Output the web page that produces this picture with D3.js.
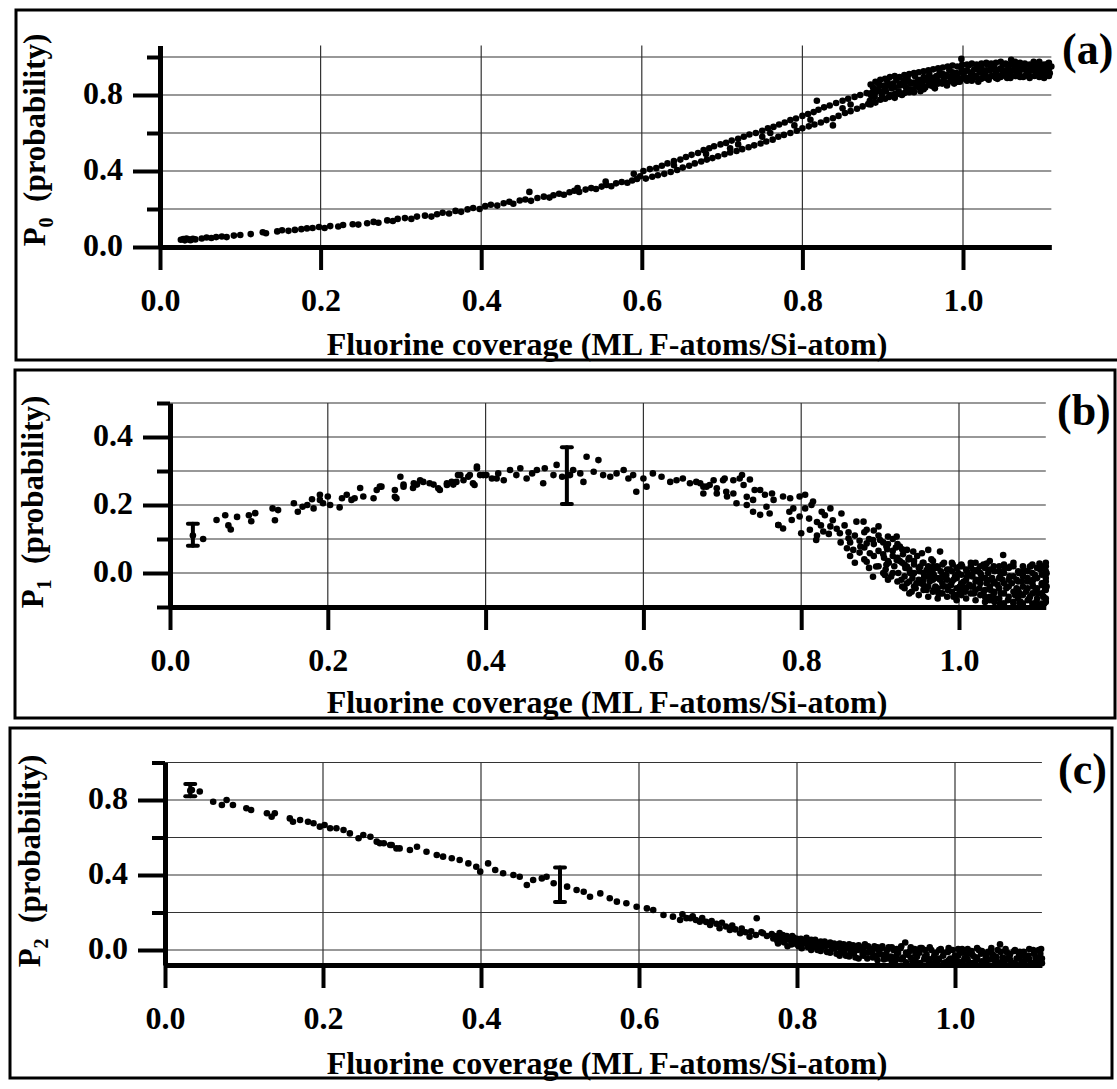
<!DOCTYPE html>
<html>
<head>
<meta charset="utf-8">
<script src="https://cdn.jsdelivr.net/npm/d3@7"></script>
<style>
  body { margin: 0; background: #fff; }
</style>
</head>
<body>
<div id="chart"></div>
<script>
// ---- Data ----
const xTicks = [0, 0.2, 0.4, 0.6, 0.8, 1.0];
const xTitle = "Fluorine coverage (ML F-atoms/Si-atom)";

const p0YMajor = [0, 0.4, 0.8];
const p0YMinor = [0.2, 0.6, 1.0];
const p1YMajor = [0, 0.2, 0.4];
const p1YMinor = [-0.1, 0.1, 0.3, 0.5];
const p2YMajor = [0, 0.4, 0.8];
const p2YMinor = [0.2, 0.6, 1.0];

// error bars: [x, low, high]
const p1Errors = [[0.029, 0.08, 0.145], [0.503, 0.203, 0.37]];
const p2Errors = [[0.032, 0.82, 0.885], [0.5, 0.256, 0.44]];

// P0 vs coverage
const p0Points = [
  [0.026,0.038],[0.029,0.042],[0.031,0.035],[0.033,0.045],[0.036,0.04],[0.038,0.036],[0.041,0.043],[0.044,0.04],
  [0.052,0.045],[0.058,0.05],[0.064,0.047],[0.07,0.052],[0.077,0.055],[0.083,0.052],[0.092,0.06],[0.1,0.063],
  [0.113,0.068],[0.128,0.078],[0.132,0.072],[0.146,0.082],[0.152,0.088],[0.16,0.085],[0.168,0.09],[0.176,0.094],
  [0.183,0.098],[0.19,0.1],[0.198,0.105],[0.205,0.1],[0.212,0.11],[0.222,0.108],[0.228,0.116],[0.24,0.12],
  [0.247,0.118],[0.258,0.125],[0.266,0.132],[0.272,0.128],[0.283,0.14],[0.29,0.137],[0.296,0.148],[0.305,0.152],
  [0.313,0.148],[0.32,0.16],[0.33,0.165],[0.338,0.16],[0.345,0.172],[0.352,0.18],[0.36,0.176],[0.368,0.19],
  [0.375,0.185],[0.383,0.198],[0.39,0.205],[0.398,0.2],[0.405,0.215],[0.412,0.222],[0.42,0.218],[0.428,0.23],
  [0.435,0.238],[0.44,0.228],[0.448,0.245],[0.455,0.25],[0.462,0.243],[0.47,0.258],[0.478,0.265],[0.485,0.26],
  [0.49,0.272],[0.497,0.28],[0.503,0.275],[0.51,0.288],[0.516,0.296],[0.522,0.29],[0.53,0.302],[0.537,0.31],
  [0.543,0.305],[0.55,0.318],[0.556,0.326],[0.562,0.32],[0.568,0.335],[0.575,0.342],[0.582,0.338],[0.588,0.35],
  [0.594,0.358],[0.598,0.372],[0.46,0.29],[0.52,0.31],[0.555,0.345],[0.59,0.385],
  // upper branch
  [0.602,0.4],[0.61,0.41],[0.618,0.415],[0.625,0.428],[0.632,0.44],[0.64,0.452],[0.648,0.46],[0.655,0.474],
  [0.662,0.485],[0.67,0.495],[0.677,0.51],[0.684,0.52],[0.69,0.53],[0.698,0.54],[0.705,0.548],[0.712,0.56],
  [0.72,0.57],[0.727,0.58],[0.734,0.592],[0.742,0.6],[0.75,0.612],[0.757,0.625],[0.764,0.632],[0.771,0.645],
  [0.778,0.655],[0.785,0.668],[0.792,0.676],[0.8,0.69],[0.807,0.7],[0.814,0.71],[0.82,0.722],[0.827,0.735],
  [0.834,0.745],[0.842,0.758],[0.85,0.77],[0.857,0.78],[0.865,0.79],[0.872,0.8],[0.88,0.81],
  // lower branch
  [0.605,0.36],[0.613,0.37],[0.62,0.378],[0.628,0.385],[0.636,0.395],[0.644,0.405],[0.651,0.418],[0.659,0.428],
  [0.666,0.44],[0.674,0.45],[0.681,0.46],[0.688,0.468],[0.695,0.478],[0.703,0.488],[0.71,0.497],[0.718,0.505],
  [0.725,0.515],[0.733,0.525],[0.74,0.535],[0.748,0.545],[0.755,0.555],[0.763,0.565],[0.77,0.58],[0.777,0.59],
  [0.785,0.6],[0.793,0.612],[0.8,0.625],[0.808,0.635],[0.815,0.645],[0.823,0.655],[0.83,0.668],[0.838,0.678],
  [0.845,0.69],[0.853,0.705],[0.86,0.715],[0.868,0.728],[0.875,0.74],[0.882,0.752],
  [0.64,0.43],[0.68,0.49],[0.72,0.54],[0.76,0.6],[0.79,0.64],[0.81,0.67],[0.818,0.77],[0.838,0.64],
  [0.86,0.75],[0.71,0.52],[0.75,0.58],[0.85,0.73],
  // saturated region
  [0.884,0.77],[0.886,0.81],[0.888,0.84],[0.89,0.79],[0.893,0.83],[0.895,0.86],[0.897,0.775],[0.899,0.8],
  [0.902,0.85],[0.904,0.82],[0.906,0.87],[0.908,0.79],[0.911,0.835],[0.913,0.86],[0.915,0.805],[0.917,0.88],
  [0.92,0.82],[0.922,0.85],[0.924,0.8],[0.926,0.875],[0.929,0.84],[0.931,0.89],[0.933,0.815],[0.935,0.86],
  [0.938,0.83],[0.94,0.9],[0.942,0.85],[0.944,0.875],[0.947,0.82],[0.949,0.86],[0.951,0.895],[0.953,0.84],
  [0.956,0.88],[0.958,0.91],[0.96,0.85],[0.962,0.87],[0.965,0.835],[0.967,0.9],[0.969,0.87],[0.971,0.92],
  [0.974,0.86],[0.976,0.885],[0.978,0.905],[0.98,0.85],[0.983,0.93],[0.985,0.875],[0.987,0.9],[0.989,0.86],
  [0.992,0.915],[0.994,0.89],[0.996,0.87],[0.998,0.94],[1.001,0.9],[1.003,0.925],[1.005,0.875],[1.007,0.955],
  [1.01,0.91],[1.012,0.885],[1.014,0.935],[1.016,0.9],[1.019,0.87],[1.021,0.92],[1.023,0.945],[1.025,0.895],
  [1.028,0.91],[1.03,0.96],[1.032,0.88],[1.034,0.93],[1.037,0.9],[1.039,0.945],[1.041,0.915],[1.043,0.885],
  [1.046,0.935],[1.048,0.905],[1.05,0.96],[1.052,0.92],[1.055,0.89],[1.057,0.94],[1.059,0.91],[1.061,0.97],
  [1.064,0.93],[1.066,0.9],[1.068,0.95],[1.07,0.915],[1.073,0.94],[1.075,0.895],[1.077,0.965],[1.079,0.925],
  [1.082,0.905],[1.084,0.95],[1.086,0.93],[1.088,0.975],[1.091,0.91],[1.093,0.94],[1.095,0.96],[1.097,0.92],
  [1.1,0.945],[1.102,0.9],[1.104,0.93],[1.106,0.965],[1.108,0.915],[1.11,0.95],[0.998,0.99],[1.06,0.985],
  [0.885,0.75],[0.885,0.8],[0.885,0.855],[0.891,0.76],[0.891,0.815],[0.891,0.87],[0.897,0.82],[0.897,0.85],
  [0.897,0.88],[0.903,0.78],[0.903,0.835],[0.903,0.885],[0.909,0.8],[0.909,0.85],[0.909,0.895],[0.915,0.785],
  [0.915,0.84],[0.915,0.9],[0.921,0.805],[0.921,0.86],[0.921,0.895],[0.927,0.81],[0.927,0.855],[0.927,0.905],
  [0.933,0.83],[0.933,0.87],[0.933,0.91],[0.939,0.815],[0.939,0.865],[0.939,0.915],[0.945,0.84],[0.945,0.88],
  [0.945,0.92],[0.951,0.83],[0.951,0.875],[0.951,0.925],[0.957,0.855],[0.957,0.895],[0.957,0.93],[0.963,0.845],
  [0.963,0.89],[0.963,0.935],[0.969,0.86],[0.969,0.9],[0.969,0.94],[0.975,0.87],[0.975,0.91],[0.975,0.945],
  [0.981,0.865],[0.981,0.9],[0.981,0.95],[0.987,0.88],[0.987,0.92],[0.987,0.955],[0.993,0.87],[0.993,0.91],
  [0.993,0.95],[0.999,0.885],[0.999,0.92],[0.999,0.96],[1.005,0.89],[1.005,0.93],[1.005,0.96],[1.011,0.875],
  [1.011,0.92],[1.011,0.965],[1.017,0.895],[1.017,0.935],[1.017,0.96],[1.023,0.885],[1.023,0.925],[1.023,0.965],
  [1.029,0.89],[1.029,0.93],[1.029,0.97],[1.035,0.9],[1.035,0.94],[1.035,0.965],[1.041,0.89],[1.041,0.93],
  [1.041,0.97],[1.047,0.895],[1.047,0.94],[1.047,0.975],[1.053,0.9],[1.053,0.93],[1.053,0.965],[1.059,0.89],
  [1.059,0.925],[1.059,0.96],[1.065,0.9],[1.065,0.945],[1.065,0.975],[1.071,0.895],[1.071,0.93],[1.071,0.97],
  [1.077,0.9],[1.077,0.935],[1.077,0.955],[1.083,0.89],[1.083,0.93],[1.083,0.96],[1.089,0.9],[1.089,0.94],
  [1.089,0.965],[1.095,0.895],[1.095,0.935],[1.095,0.975],[1.101,0.89],[1.101,0.925],[1.101,0.96],[1.107,0.9],
  [1.107,0.94],[1.107,0.97]
];

// P1 vs coverage
const p1Points = [
  [0.029,0.11],[0.042,0.1],[0.059,0.156],[0.07,0.17],[0.074,0.14],[0.077,0.128],[0.085,0.165],[0.1,0.17],
  [0.103,0.152],[0.108,0.176],[0.13,0.19],[0.133,0.155],[0.137,0.185],[0.157,0.205],[0.162,0.18],[0.168,0.195],
  [0.174,0.2],[0.18,0.217],[0.182,0.19],[0.19,0.215],[0.19,0.23],[0.194,0.205],[0.2,0.225],[0.203,0.2],
  [0.215,0.193],[0.218,0.22],[0.224,0.23],[0.23,0.215],[0.234,0.22],[0.241,0.25],[0.245,0.225],[0.258,0.22],
  [0.262,0.244],[0.268,0.254],[0.285,0.244],[0.287,0.22],[0.296,0.26],[0.308,0.25],[0.313,0.26],[0.321,0.268],
  [0.334,0.26],[0.342,0.244],[0.351,0.264],[0.359,0.26],[0.363,0.268],[0.368,0.288],[0.378,0.283],[0.384,0.264],
  [0.389,0.313],[0.393,0.288],[0.401,0.288],[0.414,0.278],
  [0.266,0.254],[0.285,0.224],[0.292,0.283],[0.296,0.254],[0.309,0.264],[0.317,0.273],[0.329,0.264],[0.34,0.249],
  [0.351,0.259],[0.357,0.268],[0.365,0.288],[0.372,0.273],[0.38,0.288],[0.386,0.259],[0.389,0.308],[0.397,0.288],
  [0.408,0.278],[0.416,0.293],[0.423,0.273],[0.431,0.303],[0.439,0.288],[0.444,0.308],[0.452,0.278],[0.459,0.293],
  [0.465,0.303],[0.473,0.264],[0.475,0.308],[0.486,0.288],[0.49,0.318],[0.497,0.283],[0.507,0.288],[0.511,0.303],
  [0.52,0.293],[0.524,0.268],[0.528,0.342],[0.537,0.298],[0.543,0.332],[0.549,0.288],[0.558,0.283],[0.566,0.293],
  [0.575,0.303],[0.581,0.278],[0.587,0.288],[0.591,0.239],[0.6,0.278],[0.604,0.254],[0.612,0.293],[0.623,0.283],
  [0.634,0.268],[0.642,0.273],[0.65,0.278],[0.659,0.264],[0.667,0.268],[0.676,0.254],[0.684,0.259],[0.693,0.249],
  [0.701,0.273],[0.705,0.239],[0.714,0.234],[0.722,0.278],[0.731,0.224],[0.739,0.215],[0.748,0.244],[0.756,0.195],
  [0.765,0.215],[0.771,0.141],
  [0.672,0.264],[0.68,0.254],[0.689,0.273],[0.703,0.278],[0.714,0.273],[0.725,0.288],[0.735,0.275],[0.727,0.259],
  [0.741,0.244],[0.754,0.23],[0.763,0.234],[0.777,0.225],[0.786,0.22],[0.798,0.225],[0.805,0.23],[0.813,0.2],
  [0.826,0.18],[0.837,0.19],[0.851,0.175],
  [0.676,0.234],[0.693,0.234],[0.706,0.225],[0.718,0.205],[0.731,0.2],[0.739,0.18],[0.748,0.171],[0.76,0.175],
  [0.771,0.141],[0.777,0.131],[0.788,0.156],[0.798,0.166],[0.8,0.117],[0.811,0.127],[0.819,0.097],[0.828,0.122],
  [0.837,0.137],[0.849,0.117],[0.86,0.102],[0.87,0.151],[0.879,0.151],[0.883,0.127],[0.898,0.137],[0.891,0.097],
  [0.858,0.073],[0.866,0.068],[0.875,0.078],[0.883,0.087],[0.887,0.058],[0.9,0.097],[0.908,0.078],[0.91,0.107],
  [0.921,0.107],[0.925,0.078],[0.934,0.068],[0.942,0.063],[0.953,0.058],[0.961,0.068],[0.976,0.063],
  [0.805,0.19],[0.81,0.16],[0.815,0.21],[0.82,0.15],[0.825,0.14],[0.83,0.17],[0.835,0.115],[0.84,0.155],
  [0.845,0.13],[0.85,0.09],[0.855,0.14],[0.86,0.12],[0.82,0.11],[0.79,0.19],[0.785,0.18],
  [0.862,0.09],[0.862,0.05],[0.868,0.11],[0.868,0.03],[0.874,0.06],[0.874,0.095],[0.88,0.04],[0.88,0.12],
  [0.88,0.075],[0.886,0.1],[0.886,0.015],[0.892,0.05],[0.892,0.085],[0.892,0.125],[0.898,0.02],[0.898,0.065],
  [0.898,0.11],[0.904,0.0],[0.904,0.09],[0.904,0.055],[0.91,0.035],[0.91,0.085],[0.91,-0.02],[0.916,0.065],
  [0.916,0.0],[0.916,0.1],[0.922,0.045],[0.922,-0.025],[0.922,0.085],[0.928,0.03],[0.928,0.07],[0.928,-0.04],
  [0.883,0.033],[0.891,-0.011],[0.906,-0.006],[0.895,0.019],[0.908,0.024],[0.921,0.038],[0.934,0.019],[0.942,-0.001],
  [0.946,-0.03],[0.94,-0.055],[0.955,-0.02],[0.963,-0.001],[0.968,-0.05],[0.976,-0.02],[0.984,-0.006],[0.993,-0.02],
  [1.001,0.019],[1.005,-0.04],[1.01,-0.011],[1.018,0.009],[1.027,-0.02],[1.035,0.028],[1.044,-0.03],[1.052,-0.011],
  [1.056,0.053],[1.065,0.019],[1.073,-0.02],[1.081,-0.001],[1.09,0.019],[1.094,-0.02],[1.102,0.028],[1.107,-0.03],
  [1.111,-0.001],[1.102,-0.095],[1.056,-0.09],[1.069,-0.089],[1.039,-0.08],[1.031,-0.06],[0.993,-0.07],[1.001,-0.05],
  [0.98,-0.04],[0.968,0.019],[0.959,0.009],[0.951,0.019],[0.976,-0.06],[1.018,-0.04],[1.044,-0.06],[1.077,-0.06],
  [1.09,-0.07],[1.098,-0.05],[1.111,-0.04],[1.107,-0.07],[1.077,-0.09],[1.052,-0.09],
  [0.905,0.045],[0.907,0.01],[0.909,0.07],[0.911,0.03],[0.914,-0.01],[0.916,0.05],[0.918,0.02],[0.92,0.075],
  [0.923,0.0],[0.925,0.035],[0.927,-0.02],[0.929,0.055],[0.932,0.015],[0.934,-0.03],[0.936,0.04],[0.938,0.0],
  [0.941,-0.015],[0.943,0.025],[0.945,-0.045],[0.947,0.05],[0.95,0.005],[0.952,-0.03],[0.954,0.03],[0.956,-0.01],
  [0.959,-0.05],[0.961,0.015],[0.963,-0.025],[0.965,0.04],[0.968,-0.005],[0.97,-0.04],[0.972,0.02],[0.974,-0.06],
  [0.977,0.005],[0.979,-0.03],[0.981,0.03],[0.983,-0.015],[0.986,-0.05],[0.988,0.01],[0.99,-0.035],[0.992,0.025],
  [0.995,-0.01],[0.997,-0.065],[0.999,0.0],[1.001,-0.04],[1.004,0.02],[1.006,-0.025],[1.008,-0.055],[1.01,0.005],
  [1.013,-0.035],[1.015,0.03],[1.017,-0.01],[1.019,-0.06],[1.022,-0.02],[1.024,0.01],[1.026,-0.045],[1.028,-0.005],
  [1.031,0.025],[1.033,-0.07],[1.035,-0.03],[1.037,0.0],[1.04,-0.05],[1.042,-0.015],[1.044,0.02],[1.046,-0.075],
  [1.049,-0.035],[1.051,0.005],[1.053,-0.06],[1.055,-0.02],[1.058,0.015],[1.06,-0.045],[1.062,-0.08],[1.064,-0.01],
  [1.067,-0.03],[1.069,0.02],[1.071,-0.065],[1.073,-0.045],[1.076,0.0],[1.078,-0.085],[1.08,-0.025],[1.082,0.01],
  [1.085,-0.055],[1.087,-0.015],[1.089,-0.075],[1.091,0.02],[1.094,-0.04],[1.096,-0.005],[1.098,-0.085],[1.1,-0.06],
  [1.103,0.01],[1.105,-0.03],[1.107,-0.07],[1.109,-0.05],[1.11,-0.015],[1.11,0.02],[1.108,-0.09],[1.11,-0.085],
  [0.931,-0.045],[0.931,-0.01],[0.931,0.025],[0.937,-0.06],[0.937,-0.025],[0.937,0.01],[0.937,0.045],[0.943,-0.04],
  [0.943,0.0],[0.943,0.035],[0.949,-0.065],[0.949,-0.02],[0.949,0.015],[0.955,-0.05],[0.955,-0.035],[0.955,0.0],
  [0.955,0.03],[0.961,-0.07],[0.961,-0.04],[0.961,-0.01],[0.961,0.02],[0.967,-0.055],[0.967,-0.02],[0.967,0.01],
  [0.967,0.035],[0.973,-0.075],[0.973,-0.045],[0.973,-0.015],[0.973,0.015],[0.979,-0.06],[0.979,-0.005],[0.979,0.025],
  [0.985,-0.07],[0.985,-0.04],[0.985,-0.02],[0.985,0.01],[0.991,-0.055],[0.991,-0.025],[0.991,0.005],[0.991,0.03],
  [0.997,-0.08],[0.997,-0.045],[0.997,-0.015],[0.997,0.015],[1.003,-0.065],[1.003,-0.03],[1.003,-0.005],[1.003,0.025],
  [1.009,-0.075],[1.009,-0.045],[1.009,-0.02],[1.009,0.01],[1.015,-0.06],[1.015,-0.04],[1.015,-0.005],[1.015,0.02],
  [1.021,-0.08],[1.021,-0.05],[1.021,-0.025],[1.021,0.005],[1.021,0.03],[1.027,-0.065],[1.027,-0.03],[1.027,0.0],
  [1.027,0.02],[1.033,-0.085],[1.033,-0.05],[1.033,-0.015],[1.033,0.015],[1.039,-0.07],[1.039,-0.04],[1.039,-0.02],
  [1.039,0.01],[1.039,0.035],[1.045,-0.085],[1.045,-0.055],[1.045,-0.025],[1.045,0.005],[1.051,-0.075],[1.051,-0.045],
  [1.051,-0.015],[1.051,0.02],[1.057,-0.09],[1.057,-0.06],[1.057,-0.03],[1.057,0.0],[1.057,0.025],[1.063,-0.07],
  [1.063,-0.04],[1.063,-0.02],[1.063,0.015],[1.069,-0.085],[1.069,-0.055],[1.069,-0.01],[1.069,0.03],[1.075,-0.075],
  [1.075,-0.05],[1.075,-0.025],[1.075,0.005],[1.081,-0.09],[1.081,-0.065],[1.081,-0.04],[1.081,-0.01],[1.081,0.02],
  [1.087,-0.08],[1.087,-0.045],[1.087,-0.025],[1.087,0.005],[1.093,-0.09],[1.093,-0.06],[1.093,-0.03],[1.093,0.0],
  [1.093,0.025],[1.099,-0.075],[1.099,-0.045],[1.099,-0.015],[1.099,0.015],[1.105,-0.09],[1.105,-0.06],[1.105,-0.035],
  [1.105,-0.005],[1.105,0.02],[1.11,-0.075],[1.11,-0.05],[1.11,-0.025],[1.11,0.005],[1.11,0.03]
];

// P2 vs coverage
const p2Points = [
  [0.032,0.85],[0.034,0.853],[0.044,0.845],[0.061,0.791],[0.072,0.773],[0.078,0.8],[0.086,0.773],[0.103,0.756],
  [0.109,0.747],[0.129,0.729],[0.135,0.711],[0.139,0.729],[0.158,0.702],[0.162,0.684],[0.171,0.693],[0.181,0.684],
  [0.188,0.676],[0.196,0.658],[0.202,0.667],[0.209,0.649],[0.217,0.649],[0.226,0.64],[0.234,0.622],[0.245,0.596],
  [0.251,0.613],[0.26,0.604],[0.268,0.578],[0.277,0.569],[0.287,0.56],[0.293,0.542],
  [0.272,0.569],[0.285,0.56],[0.297,0.542],[0.31,0.533],[0.319,0.551],[0.331,0.524],[0.344,0.507],[0.352,0.498],
  [0.363,0.489],[0.373,0.48],[0.384,0.462],[0.394,0.444],[0.399,0.418],[0.409,0.462],[0.418,0.427],[0.428,0.409],
  [0.441,0.4],[0.449,0.391],[0.458,0.347],[0.466,0.373],[0.477,0.382],[0.483,0.391],[0.492,0.356],[0.509,0.338],
  [0.521,0.32],[0.53,0.311],[0.538,0.284],[0.551,0.302],[0.563,0.276],[0.572,0.258],[0.584,0.249],[0.597,0.231],
  [0.61,0.222],[0.618,0.213],[0.631,0.187],[0.643,0.178],[0.652,0.16],[0.665,0.169],[0.677,0.151],[0.69,0.133],
  [0.702,0.116],[0.715,0.107],[0.728,0.089],[0.74,0.071],[0.749,0.169],[0.757,0.089],[0.77,0.062],
  [0.655,0.19],[0.66,0.17],[0.668,0.18],[0.672,0.16],[0.68,0.17],[0.685,0.15],[0.692,0.155],[0.698,0.14],
  [0.705,0.145],[0.71,0.125],[0.718,0.13],[0.722,0.11],[0.73,0.115],[0.735,0.095],[0.742,0.1],[0.748,0.08],
  [0.755,0.095],[0.762,0.075],[0.768,0.085],
  [0.772,0.075],[0.775,0.05],[0.778,0.09],[0.781,0.06],[0.784,0.04],[0.787,0.075],[0.79,0.055],[0.793,0.03],
  [0.796,0.065],[0.799,0.045],[0.802,0.02],[0.805,0.06],[0.808,0.035],[0.811,0.05],[0.814,0.015],[0.817,0.04],
  [0.82,0.025],[0.823,0.055],[0.826,0.0],[0.829,0.03],[0.832,0.015],[0.835,0.045],[0.838,-0.01],[0.841,0.025],
  [0.844,0.005],[0.847,0.035],[0.85,-0.02],[0.853,0.015],[0.856,-0.005],[0.859,0.03],[0.862,-0.03],[0.865,0.01],
  [0.868,-0.01],[0.871,0.025],[0.874,-0.04],[0.877,0.0],[0.88,0.015],[0.883,-0.02],[0.886,0.03],[0.889,-0.045],
  [0.892,0.005],[0.895,-0.015],[0.898,0.02],[0.901,-0.03],[0.904,-0.005],[0.907,0.01],[0.91,-0.05],[0.913,-0.02],
  [0.916,0.015],[0.919,-0.035],[0.922,0.0],[0.925,-0.055],[0.928,-0.015],[0.931,0.01],[0.934,-0.04],[0.937,0.04],
  [0.94,-0.025],[0.943,-0.005],[0.946,-0.06],[0.949,0.005],[0.952,-0.035],[0.955,-0.015],[0.958,0.01],[0.961,-0.05],
  [0.964,-0.025],[0.967,-0.065],[0.97,0.0],[0.973,-0.04],[0.976,-0.015],[0.979,-0.055],[0.982,0.005],[0.985,-0.03],
  [0.988,-0.065],[0.991,-0.01],[0.994,-0.045],[0.997,0.0],[1.0,-0.03],[1.003,-0.06],[1.006,-0.015],[1.009,0.005],
  [1.012,-0.045],[1.015,-0.025],[1.018,-0.07],[1.021,-0.005],[1.024,-0.035],[1.027,-0.055],[1.03,0.0],[1.033,-0.02],
  [1.036,-0.065],[1.039,-0.04],[1.042,-0.01],[1.045,-0.05],[1.048,-0.025],[1.051,-0.07],[1.054,0.0],[1.057,0.03],
  [1.06,-0.04],[1.063,-0.06],[1.066,-0.015],[1.069,-0.035],[1.072,-0.07],[1.075,-0.005],[1.078,-0.045],[1.081,-0.025],
  [1.084,-0.065],[1.087,-0.01],[1.09,-0.05],[1.093,-0.03],[1.096,-0.07],[1.099,0.0],[1.102,-0.04],[1.105,-0.06],
  [1.108,-0.02],[1.11,-0.045],[1.11,-0.07],[1.109,0.005],
  [0.776,0.07],[0.776,0.035],[0.782,0.08],[0.782,0.045],[0.788,0.065],[0.788,0.02],[0.794,0.05],[0.794,0.075],
  [0.8,0.06],[0.8,0.03],[0.806,0.045],[0.806,0.01],[0.812,0.035],[0.812,0.065],[0.818,0.055],[0.818,0.0],
  [0.824,0.04],[0.824,0.015],[0.83,0.045],[0.83,-0.005],[0.836,0.02],[0.836,0.035],[0.842,0.04],[0.842,-0.015],
  [0.848,0.01],[0.848,0.025],[0.854,0.035],[0.854,-0.03],[0.86,0.015],[0.86,-0.015],[0.866,0.03],[0.866,-0.035],
  [0.872,0.005],[0.872,-0.02],[0.878,0.025],[0.878,-0.045],[0.884,0.005],[0.884,-0.03],[0.89,0.02],[0.89,-0.015],
  [0.896,-0.04],[0.896,0.0],[0.902,0.015],[0.902,-0.055],[0.908,-0.025],[0.908,0.02],[0.914,-0.045],[0.914,0.0],
  [0.92,0.015],[0.92,-0.06],[0.926,-0.03],[0.926,0.005],[0.932,-0.05],[0.932,0.02],[0.938,-0.015],[0.938,-0.065],
  [0.944,0.015],[0.944,-0.04],[0.95,-0.055],[0.95,-0.02],[0.956,0.01],[0.956,-0.07],[0.962,-0.035],[0.962,0.0],
  [0.968,-0.05],[0.968,0.015],[0.974,-0.07],[0.974,-0.025],[0.98,0.0],[0.98,-0.045],[0.986,-0.015],[0.986,-0.07],
  [0.992,0.01],[0.992,-0.055],[0.998,-0.045],[0.998,-0.07],[1.004,-0.03],[1.004,0.005],[1.01,-0.06],[1.01,-0.015],
  [1.016,0.005],[1.016,-0.05],[1.022,-0.07],[1.022,-0.025],[1.028,-0.04],[1.028,0.01],[1.034,-0.005],[1.034,-0.06],
  [1.04,-0.07],[1.04,-0.025],[1.046,-0.015],[1.046,0.01],[1.052,-0.05],[1.052,-0.035],[1.058,-0.065],[1.058,-0.01],
  [1.064,0.005],[1.064,-0.045],[1.07,-0.055],[1.07,-0.02],[1.076,-0.07],[1.076,0.0],[1.082,-0.04],[1.082,-0.01],
  [1.088,-0.06],[1.088,-0.03],[1.094,0.005],[1.094,-0.05],[1.1,-0.07],[1.1,-0.02],[1.106,-0.04],[1.106,0.0]
];

// ---- Layout ----
const W = 1117, H = 1089;
const xMax = 1.11;
const serif = '"Liberation Serif", "Times New Roman", serif';

const panels = [
  { tag: "(a)", sub: "0", points: p0Points, errors: [], yMajor: p0YMajor, yMinor: p0YMinor,
    yDomain: [0, 1.06], box: [16, 10, 1104, 350], x0: 160, xUnit: 803, y0: 247, yUnit: 190,
    yTitle: [45, 140], xTitleY: 355, tagPos: [1062, 64] },
  { tag: "(b)", sub: "1", points: p1Points, errors: p1Errors, yMajor: p1YMajor, yMinor: p1YMinor,
    yDomain: [-0.1, 0.5], box: [15, 370, 1100, 348], x0: 170, xUnit: 789, y0: 573, yUnit: 340,
    yTitle: [43, 502], xTitleY: 713, tagPos: [1057, 425] },
  { tag: "(c)", sub: "2", points: p2Points, errors: p2Errors, yMajor: p2YMajor, yMinor: p2YMinor,
    yDomain: [-0.08, 1.0], box: [10, 728, 1102, 350], x0: 165, xUnit: 790, y0: 950, yUnit: 187.5,
    yTitle: [40, 861], xTitleY: 1074, tagPos: [1058, 784] }
];

const svg = d3.select("#chart")
    .append("svg")
    .attr("width", W)
    .attr("height", H);

const fmt = d3.format(".1f");

function styleText(sel, size) {
    sel.style("font-family", serif)
        .style("font-weight", "bold")
        .style("font-size", size + "px")
        .attr("fill", "#000");
}

panels.forEach(p => {
    const g = svg.append("g");

    // Panel frame
    g.append("rect")
        .attr("x", p.box[0]).attr("y", p.box[1])
        .attr("width", p.box[2]).attr("height", p.box[3])
        .attr("fill", "none")
        .attr("stroke", "#000")
        .attr("stroke-width", 3);

    const x = d3.scaleLinear()
        .domain([0, xMax])
        .range([p.x0, p.x0 + p.xUnit * xMax]);
    const y = d3.scaleLinear()
        .domain(p.yDomain)
        .range([p.y0 - p.yDomain[0] * p.yUnit, p.y0 - p.yDomain[1] * p.yUnit]);

    // Grid
    const hGrid = p.yMajor.concat(p.yMinor).filter(v => v > p.yDomain[0] + 1e-9);
    g.append("g").selectAll("line")
        .data(hGrid)
        .join("line")
        .attr("x1", x(0)).attr("x2", x(xMax))
        .attr("y1", d => y(d)).attr("y2", d => y(d))
        .attr("stroke", "#333").attr("stroke-width", 1.2);
    g.append("g").selectAll("line")
        .data(xTicks.filter(v => v > 0))
        .join("line")
        .attr("x1", d => x(d)).attr("x2", d => x(d))
        .attr("y1", y(p.yDomain[0])).attr("y2", y(p.yDomain[1]))
        .attr("stroke", "#333").attr("stroke-width", 1.2);

    // Points
    g.append("g").selectAll("circle")
        .data(p.points)
        .join("circle")
        .attr("cx", d => x(d[0]))
        .attr("cy", d => y(d[1]))
        .attr("r", 3.3)
        .attr("fill", "#000");

    // Error bars
    const eb = g.append("g").attr("stroke", "#000").attr("stroke-width", 4).attr("stroke-linecap", "round");
    p.errors.forEach(e => {
        eb.append("line").attr("x1", x(e[0])).attr("x2", x(e[0])).attr("y1", y(e[1])).attr("y2", y(e[2]));
        eb.append("line").attr("x1", x(e[0]) - 5).attr("x2", x(e[0]) + 5).attr("y1", y(e[1])).attr("y2", y(e[1]));
        eb.append("line").attr("x1", x(e[0]) - 5).attr("x2", x(e[0]) + 5).attr("y1", y(e[2])).attr("y2", y(e[2]));
    });

    // X axis
    const xAxis = g.append("g")
        .attr("transform", `translate(0, ${y(p.yDomain[0])})`)
        .call(d3.axisBottom(x).tickValues(xTicks).tickSize(23).tickSizeOuter(0)
            .tickPadding(18).tickFormat(fmt));
    xAxis.select(".domain").attr("stroke-width", 5);
    xAxis.selectAll(".tick line").attr("stroke-width", 4);
    styleText(xAxis.selectAll(".tick text"), 32);

    // Y axis: major + minor ticks
    const yAxis = g.append("g")
        .attr("transform", `translate(${x(0)}, 0)`)
        .call(d3.axisLeft(y).tickValues(p.yMajor).tickSize(27).tickSizeOuter(0)
            .tickPadding(10).tickFormat(fmt));
    yAxis.select(".domain").attr("stroke-width", 5);
    yAxis.selectAll(".tick line").attr("stroke-width", 4);
    styleText(yAxis.selectAll(".tick text").attr("dy", "0.25em"), 32);

    const yMinorAxis = g.append("g")
        .attr("transform", `translate(${x(0)}, 0)`)
        .call(d3.axisLeft(y).tickValues(p.yMinor).tickSize(13).tickFormat(""));
    yMinorAxis.select(".domain").remove();
    yMinorAxis.selectAll(".tick line").attr("stroke-width", 4);

    // Axis titles
    const xt = g.append("text")
        .attr("x", 607)
        .attr("y", p.xTitleY)
        .attr("text-anchor", "middle")
        .text(xTitle);
    styleText(xt, 32);

    const yt = g.append("text")
        .attr("transform", `translate(${p.yTitle[0]}, ${p.yTitle[1]}) rotate(-90)`)
        .attr("text-anchor", "middle");
    styleText(yt, 31);
    yt.append("tspan").text("P");
    yt.append("tspan").attr("dy", 8).style("font-size", "20px").text(p.sub);
    yt.append("tspan").attr("dy", -8).text("\u00a0\u00a0(probability)");

    // Panel tag
    const tg = g.append("text")
        .attr("x", p.tagPos[0])
        .attr("y", p.tagPos[1])
        .text(p.tag);
    styleText(tg, 44);
});
</script>
</body>
</html>
